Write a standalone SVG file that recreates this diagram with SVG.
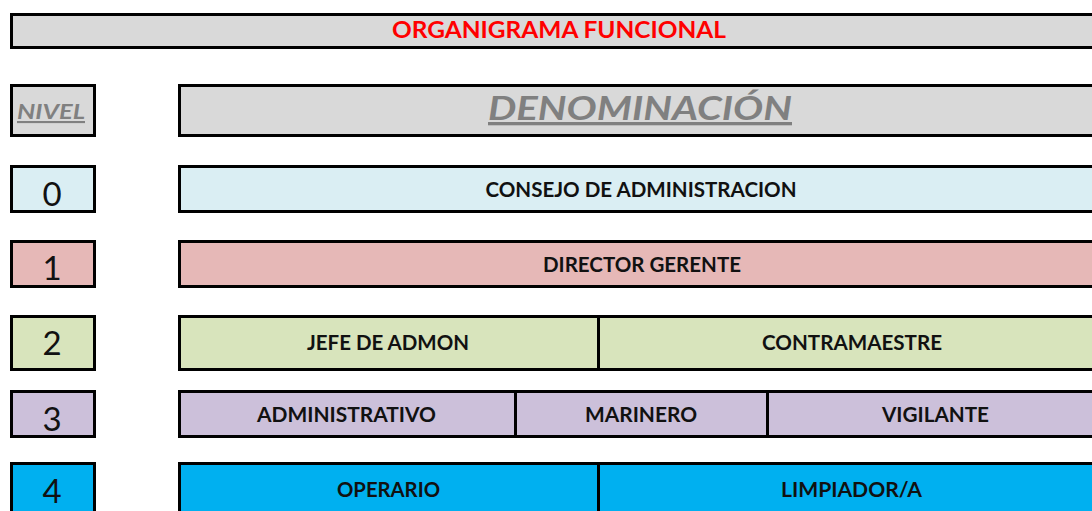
<svg xmlns="http://www.w3.org/2000/svg" width="1092" height="511" viewBox="0 0 1092 511">
<style>
.b{stroke:#000;stroke-width:3}
.g{fill:#d9d9d9}.c0{fill:#daeef3}.c1{fill:#e6b8b7}.c2{fill:#d8e4bc}.c3{fill:#ccc0da}.c4{fill:#00b0f0}
.t{font-family:Lato,"Open Sans","Liberation Sans",sans-serif;font-weight:bold;font-size:20px;fill:#111;text-anchor:middle}
.n{font-family:Lato,"Open Sans","Liberation Sans",sans-serif;font-size:33px;fill:#111;text-anchor:middle}
.h{font-family:Lato,"Open Sans","Liberation Sans",sans-serif;font-weight:bold;font-style:italic;fill:#808080;text-anchor:middle;text-decoration:underline}
</style>
<g id="title"><rect class="b g" x="11.5" y="14.5" width="1100" height="33"/><text class="t" x="559" y="38" style="fill:#ff0000;font-size:22px" textLength="334" lengthAdjust="spacingAndGlyphs">ORGANIGRAMA FUNCIONAL</text></g>
<g id="nivel"><rect class="b g" x="11.5" y="85.5" width="83" height="50"/><text class="h" x="51" y="119" style="font-size:21px" textLength="68" lengthAdjust="spacingAndGlyphs">NIVEL</text></g>
<g id="denominacion"><rect class="b g" x="179.5" y="85.5" width="930" height="50"/><text class="h" x="640" y="120" style="font-size:33px" textLength="304" lengthAdjust="spacingAndGlyphs">DENOMINACIÓN</text></g>
<g id="n0"><rect class="b c0" x="11.5" y="166.5" width="83" height="45"/><text class="n" x="52" y="206">0</text></g>
<g id="r0"><rect class="b c0" x="179.5" y="166.5" width="930" height="45"/><text class="t" x="641" y="197" textLength="311" lengthAdjust="spacingAndGlyphs">CONSEJO DE ADMINISTRACION</text></g>
<g id="n1"><rect class="b c1" x="11.5" y="241.5" width="83" height="45"/><text class="n" x="52" y="280">1</text></g>
<g id="r1"><rect class="b c1" x="179.5" y="241.5" width="930" height="45"/><text class="t" x="642" y="272" textLength="198" lengthAdjust="spacingAndGlyphs">DIRECTOR GERENTE</text></g>
<g id="n2"><rect class="b c2" x="11.5" y="316.5" width="83" height="53"/><text class="n" x="52" y="355">2</text></g>
<g id="jefe"><rect class="b c2" x="179.5" y="316.5" width="419" height="53"/><text class="t" x="388" y="350" textLength="162" lengthAdjust="spacingAndGlyphs">JEFE DE ADMON</text></g>
<g id="contramaestre"><rect class="b c2" x="598.5" y="316.5" width="510" height="53"/><text class="t" x="852" y="350" textLength="180" lengthAdjust="spacingAndGlyphs">CONTRAMAESTRE</text></g>
<g id="n3"><rect class="b c3" x="11.5" y="391.5" width="83" height="45"/><text class="n" x="52" y="431">3</text></g>
<g id="administrativo"><rect class="b c3" x="179.5" y="391.5" width="336" height="45"/><text class="t" x="346.5" y="422" textLength="179" lengthAdjust="spacingAndGlyphs">ADMINISTRATIVO</text></g>
<g id="marinero"><rect class="b c3" x="515.5" y="391.5" width="252" height="45"/><text class="t" x="641" y="422" textLength="112" lengthAdjust="spacingAndGlyphs">MARINERO</text></g>
<g id="vigilante"><rect class="b c3" x="767.5" y="391.5" width="340" height="45"/><text class="t" x="935.5" y="422" textLength="107" lengthAdjust="spacingAndGlyphs">VIGILANTE</text></g>
<g id="n4"><rect class="b c4" x="11.5" y="463.5" width="83" height="60"/><text class="n" x="52" y="503">4</text></g>
<g id="operario"><rect class="b c4" x="179.5" y="463.5" width="419" height="60"/><text class="t" x="388.5" y="497" textLength="103" lengthAdjust="spacingAndGlyphs">OPERARIO</text></g>
<g id="limpiador"><rect class="b c4" x="598.5" y="463.5" width="510" height="60"/><text class="t" x="851.5" y="497" textLength="141" lengthAdjust="spacingAndGlyphs">LIMPIADOR/A</text></g>
<g id="connectors"/>
</svg>
